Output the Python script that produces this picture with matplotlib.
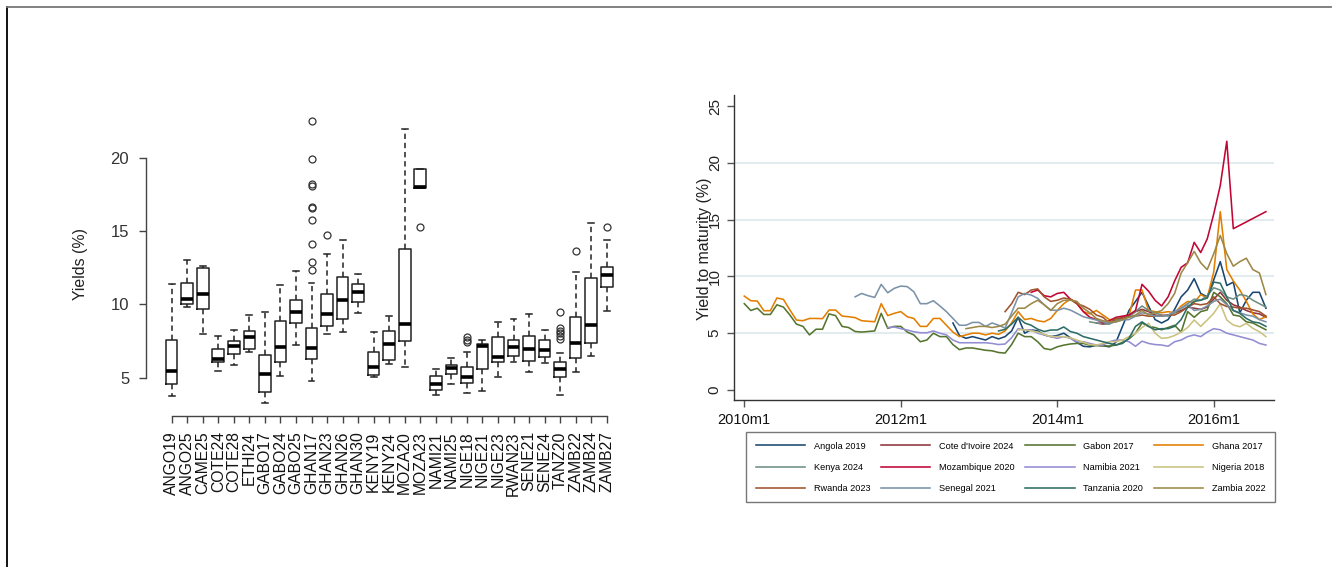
import numpy as np
import matplotlib
matplotlib.use("Agg")
import matplotlib.pyplot as plt
from matplotlib.lines import Line2D

plt.rcParams['font.family'] = ['Liberation Sans', 'DejaVu Sans']

# ---------------- Left panel data (boxplots) ----------------
bond_codes = ['ANGO19', 'ANGO25', 'CAME25', 'COTE24', 'COTE28', 'ETHI24', 'GABO17', 'GABO24',
              'GABO25', 'GHAN17', 'GHAN23', 'GHAN26', 'GHAN30', 'KENY19', 'KENY24', 'MOZA20',
              'MOZA23', 'NAMI21', 'NAMI25', 'NIGE18', 'NIGE21', 'NIGE23', 'RWAN23', 'SENE21',
              'SENE24', 'TANZ20', 'ZAMB22', 'ZAMB24', 'ZAMB27']
whisker_high = [11.39, 13.02, 12.61, 7.84, 8.25, 9.25, 9.5, 11.32, 12.3, 11.48, 13.43, 14.39, 12.1,
                8.14, 9.2, 21.93, 19.2, 5.62, 6.37, 6.78, 7.57, 8.82, 9.0, 9.34, 8.25, 6.66, 12.23,
                15.52, 14.39]
quart3 = [7.57, 11.48, 12.45, 6.96, 7.52, 8.21, 6.55, 8.87, 10.3, 8.41, 10.68, 11.84, 11.36, 6.75,
          8.18, 13.75, 19.2, 5.12, 5.87, 5.75, 7.3, 7.77, 7.57, 7.84, 7.57, 6.07, 9.11, 11.77, 12.52]
medians = [5.48, 10.37, 10.71, 6.25, 7.18, 7.75, 5.25, 7.12, 9.48, 7.0, 9.34, 10.3, 10.84, 5.75,
           7.3, 8.66, 17.98, 4.59, 5.68, 5.07, 7.18, 6.41, 7.07, 6.98, 6.91, 5.62, 7.39, 8.59, 12.0]
quart1 = [4.57, 10.02, 9.66, 6.05, 6.62, 6.96, 4.03, 6.05, 8.71, 6.25, 8.52, 8.98, 10.14, 5.16,
          6.21, 7.5, 17.9, 4.16, 5.25, 4.62, 5.59, 6.07, 6.48, 6.14, 6.41, 5.07, 6.34, 7.34, 11.16]
whisker_low = [3.75, 9.8, 7.96, 5.48, 5.87, 6.78, 3.25, 5.12, 7.23, 4.78, 7.96, 8.14, 9.43, 5.02,
               5.93, 5.75, 17.9, 3.8, 4.55, 3.98, 4.12, 5.07, 6.07, 5.39, 5.98, 3.84, 5.41, 6.5, 9.57]
outliers = {
    'GHAN17': [22.5, 19.93, 18.2, 18.1, 16.66, 16.57, 15.75, 14.11, 12.86, 12.34],
    'GHAN23': [14.73],
    'MOZA23': [15.25],
    'NIGE18': [7.8, 7.6, 7.46],
    'TANZ20': [9.48, 8.37, 8.18, 8.02, 7.84, 7.66],
    'ZAMB22': [13.66],
    'ZAMB27': [15.3],
}
box_yticks = [5, 10, 15, 20]

# ---------------- Right panel data (monthly yields, month 0 = 2010m1) ----------------
series_names = ['Angola 2019', "Cote d'Ivoire 2024", 'Gabon 2017', 'Ghana 2017',
                'Kenya 2024', 'Mozambique 2020', 'Namibia 2021', 'Nigeria 2018',
                'Rwanda 2023', 'Senegal 2021', 'Tanzania 2020', 'Zambia 2022']
series_colors = ['#1a476f', '#90353b', '#55752f', '#e37e00', '#6e8e84', '#c10534',
                 '#938dd2', '#cac27e', '#a0522d', '#7b92a8', '#2d6d66', '#9c8847']
series_start = [32, 54, 0, 0, 53, 44, 22, 42, 40, 17, 39, 34]

angola_2019 = [5.9, 4.8, 4.55, 4.7, 4.55, 4.4, 4.7, 4.5, 4.7, 5.2, 6.4, 5.0, 5.3, 5.2, 4.85, 4.7,
               4.8, 5.0, 4.6, 4.2, 3.85, 3.8, 3.95, 3.9, 3.8, 4.2, 5.6, 7.0, 7.8, 8.6, 7.4, 6.2,
               5.9, 6.2, 7.1, 8.2, 8.8, 9.8, 8.5, 8.2, 9.7, 11.3, 9.2, 9.5, 6.8, 7.9, 8.6, 8.6, 7.2]
cote_divoire_2024 = [5.9, 5.8, 5.85, 6.2, 6.4, 6.5, 6.9, 7.1, 6.9, 6.6, 6.5, 6.6, 6.8, 7.0, 7.3,
                     7.2, 7.1, 7.3, 8.0, 8.6, 7.9, 7.5, 7.3, 7.0, 6.8, 6.7, 6.4]
gabon_2017 = [7.6, 7.0, 7.2, 6.65, 6.65, 7.5, 7.3, 6.6, 5.8, 5.6, 4.85, 5.35, 5.35, 6.7, 6.55, 5.6,
              5.5, 5.15, 5.1, 5.15, 5.2, 6.75, 5.43, 5.6, 5.6, 5.1, 4.85, 4.25, 4.4, 5.0, 4.7, 4.7,
              4.0, 3.55, 3.7, 3.7, 3.6, 3.5, 3.45, 3.3, 3.25, 4.0, 5.0, 4.7, 4.7, 4.25, 3.65, 3.55,
              3.8, 3.95, 4.05, 4.1, 4.1, 3.95, 3.9, 3.9, 3.87, 3.95, 4.2, 4.5, 5.0, 5.9, 5.6, 5.5,
              5.3, 5.5, 5.7, 5.1, 6.9, 6.4, 6.9, 7.05, 8.6, 8.2, 7.6, 6.6, 6.5, 6.0, 5.9, 5.6, 5.3]
ghana_2017 = [8.27, 7.86, 7.83, 6.98, 6.98, 8.1, 7.98, 7.04, 6.16, 6.1, 6.3, 6.3, 6.28, 7.04, 7.04,
              6.51, 6.45, 6.37, 6.1, 6.05, 6.01, 7.6, 6.55, 6.75, 6.9, 6.45, 6.3, 5.6, 5.6, 6.3,
              6.3, 5.7, 5.1, 4.7, 4.85, 5.0, 5.0, 4.85, 5.0, 4.9, 5.2, 5.9, 6.9, 6.2, 6.3, 6.1,
              6.0, 6.3, 7.0, 7.6, 8.0, 7.75, 6.9, 6.7, 7.0, 6.6, 6.2, 6.2, 6.3, 6.5, 8.8, 8.8,
              7.0, 6.9, 6.8, 6.9, 6.8, 7.4, 7.8, 7.7, 8.4, 8.1, 10.4, 15.7, 10.6, 9.6, 8.8, 7.8,
              6.7, 6.2, 6.45]
kenya_2024 = [6.0, 5.9, 5.85, 5.8, 6.1, 6.3, 6.5, 6.9, 7.4, 7.0, 6.8, 6.6, 6.5, 6.8, 7.2, 7.6, 8.0,
              7.9, 8.3, 9.0, 8.8, 8.2, 8.0, 8.4, 8.3, 7.9, 7.6, 7.3]
mozambique_2020 = [8.6, 8.8, 8.3, 8.2, 8.5, 8.6, 8.0, 7.6, 6.9, 6.4, 6.2, 5.9, 6.1, 6.4, 6.5, 6.6,
                   7.0, 9.3, 8.7, 7.9, 7.4, 8.2, 9.6, 10.8, 11.2, 13.0, 12.1, 13.3, 15.5, 18.0,
                   21.9, 14.2, 14.5, 14.8, 15.1, 15.4, 15.7]
namibia_2021 = [5.5, 5.55, 5.4, 5.28, 5.13, 5.04, 5.04, 5.2, 5.0, 4.85, 4.4, 4.16, 4.16, 4.16, 4.16,
                4.16, 4.1, 4.0, 4.05, 4.6, 5.4, 5.3, 5.3, 5.0, 4.85, 4.7, 4.55, 4.7, 4.55, 4.25,
                4.25, 4.1, 3.96, 3.96, 4.25, 4.4, 4.4, 4.25, 3.85, 4.3, 4.1, 4.0, 3.96, 3.85, 4.25,
                4.4, 4.7, 4.85, 4.7, 5.1, 5.4, 5.3, 5.0, 4.85, 4.7, 4.55, 4.4, 4.1, 3.96]
nigeria_2018 = [5.3, 5.3, 5.2, 5.1, 4.9, 4.7, 4.7, 4.7, 4.6, 4.4, 4.2, 4.0, 3.96, 4.1, 4.25, 4.25,
                4.4, 4.7, 5.0, 5.5, 5.87, 5.0, 4.55, 4.6, 4.8, 5.1, 5.5, 6.16, 5.6, 6.16, 6.75, 7.6,
                6.16, 5.72, 5.57, 5.87, 5.43, 5.13, 4.7]
rwanda_2023 = [6.9, 7.6, 8.6, 8.4, 8.8, 8.9, 8.2, 7.8, 7.9, 8.1, 8.0, 7.6, 7.4, 7.1, 6.6, 6.4, 5.9,
               6.3, 6.3, 6.45, 6.5, 6.6, 6.5, 6.5, 6.55, 6.6, 6.6, 6.9, 7.3, 7.6, 7.5, 7.6, 8.2,
               7.6, 7.35, 7.3, 7.2, 7.2, 7.05, 6.9, 6.5]
senegal_2021 = [8.2, 8.5, 8.3, 8.15, 9.3, 8.56, 8.95, 9.15, 9.1, 8.65, 7.6, 7.6, 7.86, 7.4, 6.9, 6.3,
                5.7, 5.7, 5.95, 5.95, 5.6, 5.9, 5.7, 5.45, 6.8, 8.2, 8.5, 8.36, 8.07, 7.5, 7.04,
                7.0, 7.2, 7.04, 6.75, 6.45, 6.3, 6.16, 6.0, 5.87, 6.0, 6.16, 6.2, 6.5, 6.8, 6.7,
                6.5, 6.5, 6.6, 6.9, 7.2, 7.5, 7.0, 7.1, 7.4, 7.8, 8.0, 7.5, 7.0, 6.8, 6.6, 6.5,
                6.2, 6.0]
tanzania_2020 = [5.2, 5.34, 5.8, 6.4, 5.9, 5.7, 5.35, 5.15, 5.28, 5.28, 5.55, 5.15, 5.0, 4.7, 4.55,
                 4.4, 4.25, 4.1, 3.96, 4.1, 4.55, 5.6, 6.0, 5.6, 5.3, 5.4, 5.4, 5.6, 6.2, 7.3, 7.8,
                 7.9, 8.1, 9.5, 9.4, 8.2, 7.0, 6.75, 6.3, 6.0, 5.9, 5.6]
zambia_2022 = [5.4, 5.5, 5.6, 5.6, 5.5, 5.6, 5.8, 6.5, 7.2, 7.2, 7.6, 7.9, 7.5, 7.0, 7.6, 7.9, 7.9,
               7.8, 7.2, 6.8, 6.3, 6.1, 6.0, 6.0, 6.2, 6.4, 6.6, 7.0, 6.6, 6.8, 7.0, 7.6, 8.5, 10.3,
               11.2, 12.2, 11.2, 10.6, 12.0, 13.6, 12.0, 10.9, 11.3, 11.6, 10.6, 10.3, 8.4]
series_values = [angola_2019, cote_divoire_2024, gabon_2017, ghana_2017, kenya_2024,
                 mozambique_2020, namibia_2021, nigeria_2018, rwanda_2023, senegal_2021,
                 tanzania_2020, zambia_2022]
date_ticks = [0, 24, 48, 72]
date_labels = ['2010m1', '2012m1', '2014m1', '2016m1']
yield_ticks = [0, 5, 10, 15, 20, 25]

# ---------------- Figure ----------------
W, H = 1341, 567
fig = plt.figure(figsize=(W / 100, H / 100), dpi=100)
fig.patch.set_facecolor('white')


def fx(px):
    return px / W


def fy(py):
    return 1 - py / H


# outer frame (left and top edges)
fig.add_artist(Line2D([fx(6.5), fx(6.5)], [fy(7), 0], transform=fig.transFigure,
                      color='black', lw=1.3))
fig.add_artist(Line2D([fx(6.5), fx(1331)], [fy(7), fy(7)], transform=fig.transFigure,
                      color='#777777', lw=1.3))

# ---------------- Left: boxplots ----------------
ax1 = fig.add_axes([fx(163.9), fy(414.7), (614.5 - 163.9) / W, (414.7 - 109.7) / H])
stats = []
for i, code in enumerate(bond_codes):
    stats.append(dict(whislo=whisker_low[i], q1=quart1[i], med=medians[i], q3=quart3[i],
                      whishi=whisker_high[i], fliers=outliers.get(code, []), label=code))
positions = np.arange(1, len(bond_codes) + 1)
ax1.bxp(stats, positions=positions, widths=0.75, capwidths=0.38,
        boxprops=dict(color='#222222', linewidth=1.1),
        whiskerprops=dict(color='#222222', linewidth=1.1, linestyle=(0, (3.5, 2.5))),
        capprops=dict(color='#222222', linewidth=1.1),
        medianprops=dict(color='black', linewidth=2.6, solid_capstyle='butt'),
        flierprops=dict(marker='o', markerfacecolor='none', markeredgecolor='#333333',
                        markersize=5, markeredgewidth=0.9))
ax1.set_xlim(0.5, len(bond_codes) + 0.5)
ax1.set_ylim(2.48, 23.27)
for s in ['top', 'right']:
    ax1.spines[s].set_visible(False)
ax1.spines['left'].set_position(('outward', 13))
ax1.spines['left'].set_bounds(5, 20)
ax1.spines['bottom'].set_position(('outward', 1))
ax1.spines['bottom'].set_bounds(1, len(bond_codes))
for s in ['left', 'bottom']:
    ax1.spines[s].set_color('#444444')
    ax1.spines[s].set_linewidth(1.0)
ax1.set_yticks(box_yticks)
ax1.set_yticklabels([str(t) for t in box_yticks], fontsize=12, color='#333333')
ax1.set_xticks(positions)
ax1.set_xticklabels(bond_codes, rotation=90, fontsize=11.3, color='#111111')
ax1.tick_params(axis='both', length=5, width=1.0, color='#444444')
ax1.tick_params(axis='y', pad=7)
ax1.tick_params(axis='x', pad=6)
fig.text(fx(81), fy(264), 'Yields (%)', rotation=90, ha='center', va='center',
         fontsize=11.4, color='#222222')

# ---------------- Right: yield lines ----------------
ax2 = fig.add_axes([fx(734.3), fy(400), (1274 - 734.3) / W, (400 - 95) / H])
handles = []
for name, col, start, vals in zip(series_names, series_colors, series_start, series_values):
    months = np.arange(start, start + len(vals))
    h, = ax2.plot(months, vals, color=col, linewidth=1.15, label=name)
    handles.append(h)
ax2.set_xlim(-1.53, 81.24)
ax2.set_ylim(-0.88, 25.97)
ax2.set_yticks(yield_ticks)
ax2.set_yticklabels([str(t) for t in yield_ticks], rotation=90, va='center',
                    fontsize=11, color='#222222')
ax2.set_xticks(date_ticks)
ax2.set_xticklabels(date_labels, fontsize=10.5, color='#111111')
ax2.grid(axis='y', color='#e2ebee', linewidth=1.4)
ax2.set_axisbelow(True)
for gl, t in zip(ax2.yaxis.get_gridlines(), yield_ticks):
    if t in (0, 25):
        gl.set_visible(False)
for s in ['top', 'right']:
    ax2.spines[s].set_visible(False)
for s in ['left', 'bottom']:
    ax2.spines[s].set_color('#333333')
    ax2.spines[s].set_linewidth(1.0)
ax2.tick_params(axis='both', length=5, width=1.0, color='#555555')
ax2.tick_params(axis='y', pad=4)
ax2.tick_params(axis='x', pad=4)
fig.text(fx(704), fy(249), 'Yield to maturity (%)', rotation=90, ha='center', va='center',
         fontsize=11.4, color='#222222')

# legend: row-wise order in 4 columns
order = [0, 4, 8, 1, 5, 9, 2, 6, 10, 3, 7, 11]
leg = fig.legend([handles[i] for i in order], [series_names[i] for i in order],
                 ncol=4, loc='upper left', bbox_to_anchor=(fx(746), fy(432)),
                 borderaxespad=0.0,
                 fontsize=6.6, handlelength=5.4, handletextpad=0.95, columnspacing=1.15,
                 labelspacing=1.32, borderpad=1.05, frameon=True, fancybox=False)
leg.get_frame().set_edgecolor('#555555')
leg.get_frame().set_linewidth(1.0)

fig.savefig('out.png', dpi=100, facecolor='white')
